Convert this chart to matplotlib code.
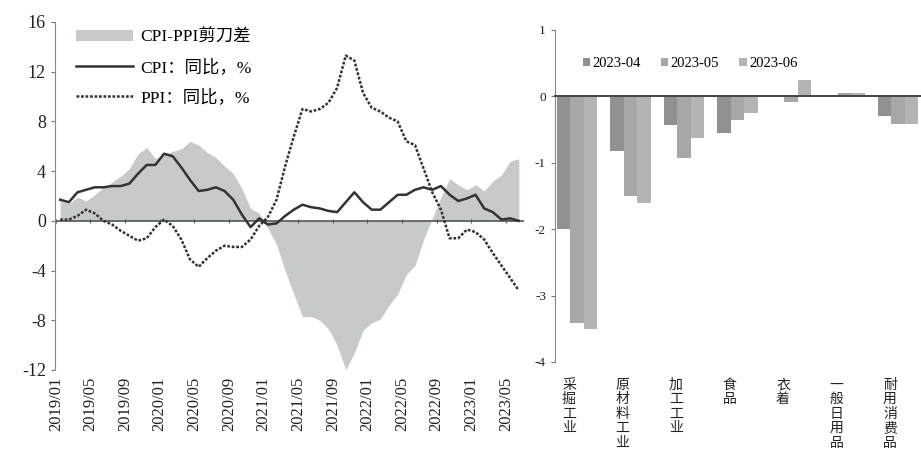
import numpy as np
import matplotlib
matplotlib.use("Agg")
import matplotlib.pyplot as plt
import matplotlib.transforms as mtransforms
from matplotlib.patches import Patch
from matplotlib.lines import Line2D

plt.rcParams['font.family'] = ['Liberation Serif', 'Noto Sans CJK SC']
plt.rcParams['axes.unicode_minus'] = False

# 左图：2019/01 - 2023/06 月度数据
cpi = [1.7, 1.5, 2.3, 2.5, 2.7, 2.7, 2.8, 2.8, 3.0, 3.8, 4.5, 4.5,
       5.4, 5.2, 4.3, 3.3, 2.4, 2.5, 2.7, 2.4, 1.7, 0.5, -0.5, 0.2,
       -0.3, -0.2, 0.4, 0.9, 1.3, 1.1, 1.0, 0.8, 0.7, 1.5, 2.3, 1.5,
       0.9, 0.9, 1.5, 2.1, 2.1, 2.5, 2.7, 2.5, 2.8, 2.1, 1.6, 1.8,
       2.1, 1.0, 0.7, 0.1, 0.2, 0.0]
ppi = [0.1, 0.1, 0.4, 0.9, 0.6, 0.0, -0.3, -0.8, -1.2, -1.6, -1.4, -0.5,
       0.1, -0.4, -1.5, -3.1, -3.7, -3.0, -2.4, -2.0, -2.1, -2.1, -1.5, -0.4,
       0.3, 1.7, 4.4, 6.8, 9.0, 8.8, 9.0, 9.5, 10.7, 13.3, 12.9, 10.3,
       9.1, 8.8, 8.3, 8.0, 6.4, 6.1, 4.2, 2.3, 0.9, -1.4, -1.4, -0.7,
       -0.9, -1.5, -2.6, -3.6, -4.6, -5.6]
spread = [1.6, 1.4, 1.9, 1.6, 2.1, 2.7, 3.1, 3.6, 4.2, 5.4, 5.9, 5.0,
          5.3, 5.6, 5.8, 6.4, 6.1, 5.5, 5.1, 4.4, 3.8, 2.6, 1.0, 0.6,
          -0.6, -1.9, -4.0, -5.9, -7.7, -7.7, -8.0, -8.7, -10.0, -12.0, -10.6, -8.8,
          -8.2, -7.9, -6.8, -5.9, -4.3, -3.6, -1.5, 0.2, 1.9, 3.4, 2.9, 2.5,
          2.9, 2.4, 3.2, 3.7, 4.8, 5.0]
tick_labels = ['2019/01', '2019/05', '2019/09', '2020/01', '2020/05', '2020/09',
               '2021/01', '2021/05', '2021/09', '2022/01', '2022/05', '2022/09',
               '2023/01', '2023/05']

# 右图：分行业
industries = ['采掘工业', '原材料工业', '加工工业', '食品', '衣着', '一般日用品', '耐用消费品']
months = ['2023-04', '2023-05', '2023-06']
v_apr = [-2.0, -0.82, -0.43, -0.55, 0.0, 0.0, -0.3]
v_may = [-3.42, -1.5, -0.93, -0.35, -0.08, 0.05, -0.42]
v_jun = [-3.5, -1.6, -0.62, -0.25, 0.25, 0.05, -0.42]

fig = plt.figure(figsize=(9.21, 4.59), dpi=100)
W, H = 921, 459

# ---------- 左图 ----------
ax = fig.add_axes([55 / W, (H - 370) / H, 469 / W, 348 / H])
x = np.arange(len(cpi))
ax.fill_between(x, spread, 0, color='#c6cbc8', lw=0, zorder=1)
ax.plot(x, cpi, color='#333333', lw=1.8, zorder=3)
ax.plot(x, ppi, color='#333333', lw=1.8, ls=(0, (1.1, 0.7)), zorder=3)
ax.axhline(0, color='#555555', lw=1.2, zorder=2)

ax.set_xlim(-0.6, 53.6)
ax.set_ylim(-12, 16)
ax.set_yticks(np.arange(-12, 17, 4))
ax.tick_params(axis='y', labelsize=13, length=3, color='#777777', labelcolor='#222222')
for s in ['top', 'right']:
    ax.spines[s].set_visible(False)
ax.spines['left'].set_color('#888888')
ax.spines['bottom'].set_position(('data', 0))
ax.spines['bottom'].set_visible(False)
tpos = np.arange(0, 54, 4) - 0.5
ax.set_xticks(tpos)
ax.tick_params(axis='x', labelbottom=False, length=3, direction='inout', color='#555555')

sec = ax.secondary_xaxis(0.0)
sec.set_xticks(tpos, tick_labels)
sec.spines['bottom'].set_visible(False)
sec.tick_params(length=0, labelsize=12, labelrotation=90, labelcolor='#222222', pad=5)

handles = [Patch(facecolor='#c6cbc8', edgecolor='none'),
           Line2D([], [], color='#333333', lw=1.8),
           Line2D([], [], color='#333333', lw=1.8, ls=(0, (1.1, 0.7)))]
labels = ['CPI-PPI剪刀差', 'CPI：同比，%', 'PPI：同比，%']
ax.legend(handles, labels, loc='upper left', bbox_to_anchor=(0.03, 0.997),
          frameon=False, fontsize=12.5, handlelength=3.3, handleheight=0.6,
          handletextpad=0.4, labelspacing=0.75, borderaxespad=0)

# ---------- 右图 ----------
bx = fig.add_axes([555 / W, (H - 362) / H, 366 / W, 332 / H])
pos = np.arange(len(industries))
w = 0.25
colors = ['#8f9290', '#a5a8a6', '#b3b5b4']
b1 = bx.bar(pos - w, v_apr, w, color=colors[0], zorder=2)
b2 = bx.bar(pos, v_may, w, color=colors[1], zorder=2)
b3 = bx.bar(pos + w, v_jun, w, color=colors[2], zorder=2)
bx.set_xlim(-0.41, 6.43)
bx.set_ylim(-4, 1)
bx.set_yticks(np.arange(-4, 2, 1))
bx.tick_params(axis='y', labelsize=9.5, length=3, color='#777777', labelcolor='#222222')
for s in ['top', 'right']:
    bx.spines[s].set_visible(False)
bx.spines['left'].set_color('#888888')
bx.spines['bottom'].set_position(('data', 0))
bx.spines['bottom'].set_color('#444444')
bx.spines['bottom'].set_linewidth(1.4)
bx.set_xticks([])

trans = mtransforms.blended_transform_factory(bx.transData, bx.transAxes)
off = mtransforms.ScaledTranslation(-8 / 100, 0, fig.dpi_scale_trans)
for i, name in enumerate(industries):
    bx.text(pos[i], -0.05, '\n'.join(name), transform=trans + off,
            ha='center', va='top', fontsize=10, linespacing=1.15,
            color='#222222')

bx.legend([b1, b2, b3], months, loc='upper left', bbox_to_anchor=(0.06, 0.935),
          ncol=3, frameon=False, fontsize=10.5, handlelength=0.5,
          handleheight=0.5, handletextpad=0.15, columnspacing=1.4,
          borderaxespad=0)

fig.savefig('out.png', dpi=100)
